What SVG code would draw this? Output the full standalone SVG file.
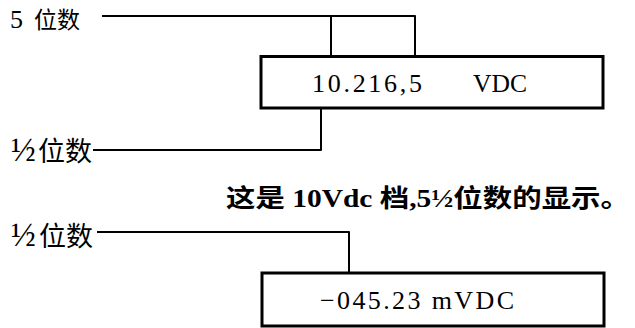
<svg xmlns="http://www.w3.org/2000/svg" width="635" height="328" viewBox="0 0 635 328">
<style>
.box{fill:#fff;stroke:#000;stroke-width:3}
.wire{fill:none;stroke:#000;stroke-width:2;stroke-linejoin:round}
.t{font-family:"Liberation Serif","Noto Sans CJK SC",serif;fill:#000}
.b{font-family:"Liberation Serif","Noto Sans CJK SC",serif;font-weight:bold;fill:#000}
.h{font-size:33px}
</style>
<rect width="635" height="328" fill="#fff"/>
<g id="connectors">
<path class="wire" d="M102,16 H415 V57"/>
<path class="wire" d="M331,16 V57"/>
<path class="wire" d="M93,150 H321 V108"/>
<path class="wire" d="M97,232 H349 V273"/>
</g>
<g id="label-5digits">
<text class="t" x="10" y="28" font-size="23"><tspan font-size="26">5</tspan><tspan x="34">位数</tspan></text>
</g>
<g id="display1">
<rect class="box" x="261" y="56.5" width="342" height="51.5"/>
<text class="t" x="312" y="92" font-size="26" textLength="110" lengthAdjust="spacing">10.216,5</text>
<text class="t" x="473" y="92" font-size="26" textLength="54" lengthAdjust="spacingAndGlyphs">VDC</text>
</g>
<g id="label-half1">
<text class="t" x="11" y="161" font-size="27"><tspan class="h">½</tspan><tspan x="38">位数</tspan></text>
</g>
<g id="caption">
<text class="b" x="226" y="207" font-size="25" textLength="404" lengthAdjust="spacingAndGlyphs">这是 10Vdc 档,5½位数的显示。</text>
</g>
<g id="label-half2">
<text class="t" x="11" y="246" font-size="27"><tspan class="h">½</tspan><tspan x="39">位数</tspan></text>
</g>
<g id="display2">
<rect class="box" x="262" y="273" width="342" height="53"/>
<text class="t" x="320" y="309" font-size="26" textLength="194" lengthAdjust="spacing">−045.23 mVDC</text>
</g>
</svg>
